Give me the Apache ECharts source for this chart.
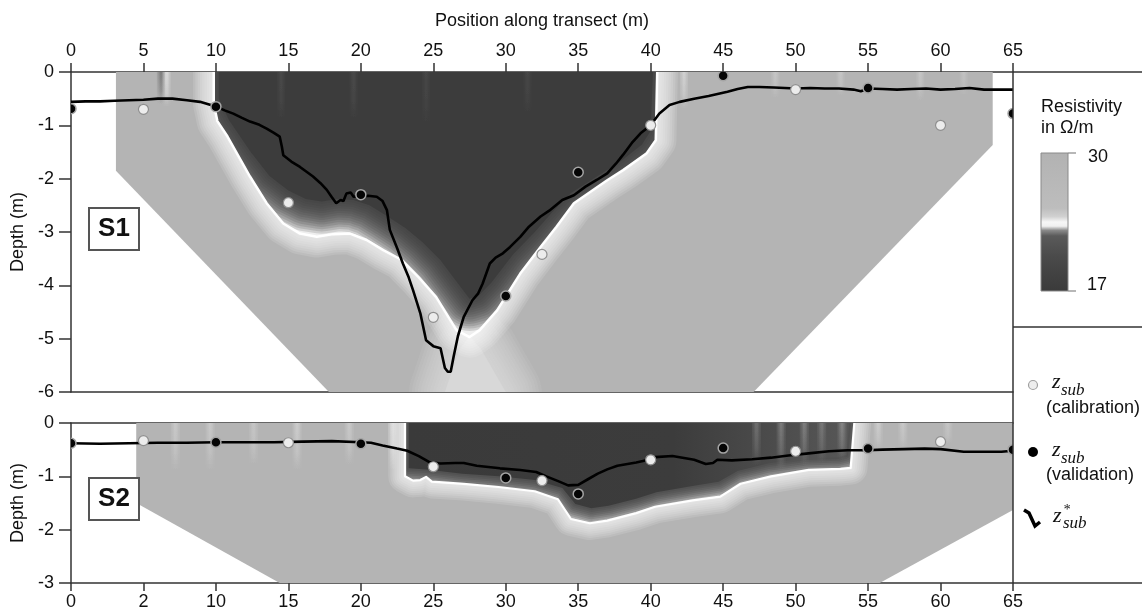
<!DOCTYPE html>
<html><head><meta charset="utf-8">
<script src="https://cdn.jsdelivr.net/npm/echarts@6/dist/echarts.min.js"></script>
<style>html,body{margin:0;padding:0;background:#fff}#c{width:1142px;height:612px}</style>
</head><body><div id="c"></div>
<script>
// ---------- tick labels ----------
const topTickLabels = ['0','5','10','15','20','25','30','35','40','45','50','55','60','65'];
const bottomTickLabels = ['0','2','10','15','20','25','30','35','40','45','50','55','60','65'];
const colorScaleLabels = ['30', '17'];

// ---------- S1: resistivity zones (x m, depth m) ----------
const s1Coverage = [[3.1,0],[63.6,0],[63.6,-1.37],[47.1,-6],[17.8,-6],[3.1,-1.85]];
const s1Plume = [[25.8,-6],[26.8,-5.2],[27.5,-4.95],[28.3,-5.2],[30.0,-6]];
const s1Halo = [[9.85,0],[9.85,-0.6],[10.1,-0.92],[10.8,-1.21],[12.35,-1.96],[13.5,-2.46],[14.65,-2.84],[15.8,-3.03],[16.96,-3.09],[18.1,-3.04],[19.25,-3.03],[20.4,-3.15],[21.55,-3.34],[22.8,-3.52],[24.0,-3.85],[25.2,-4.22],[26.6,-4.84],[27.5,-4.97],[28.2,-4.84],[29.4,-4.47],[31.0,-3.78],[32.4,-3.28],[33.5,-2.9],[34.7,-2.46],[37.0,-2.03],[38.1,-1.84],[39.7,-1.53],[40.35,-1.28],[40.45,0]];
const s1Core = [[10.2,0],[10.2,-0.5],[10.9,-0.9],[12.4,-1.5],[13.7,-1.95],[15.0,-2.22],[16.2,-2.38],[17.3,-2.43],[18.4,-2.38],[19.5,-2.4],[20.6,-2.5],[21.8,-2.7],[23.1,-2.93],[24.3,-3.2],[25.5,-3.53],[26.6,-3.93],[27.5,-4.25],[28.1,-4.2],[29.0,-3.95],[30.5,-3.42],[32.0,-3.0],[33.2,-2.63],[34.5,-2.27],[36.8,-1.87],[38.0,-1.66],[39.4,-1.36],[40.0,-1.1],[40.15,0]];
// vertical streaks in the inversion image: [x, lower depth, strength (+ light / - dark)]
const s1Streaks = [[6.6,-0.65,0.6],[6.2,-0.6,-0.4],[42.3,-0.7,0.45],[48.6,-0.5,0.25],[53.1,-0.45,0.25],[58.6,-0.55,0.25],[61.6,-0.45,0.2],[14.5,-0.9,0.07],[19.5,-0.9,0.07],[24.5,-1.0,0.06],[31.5,-0.8,0.06]];

// ---------- S1: z*sub line and points ----------
const s1Line = [[0,-0.56],[1,-0.55],[2,-0.55],[3,-0.54],[4,-0.53],[5,-0.52],[6,-0.5],[7,-0.5],[8,-0.53],[8.9,-0.56],[10.05,-0.65],[10.6,-0.72],[11.2,-0.78],[11.8,-0.86],[12.35,-0.93],[13,-0.99],[13.5,-1.06],[14,-1.14],[14.4,-1.21],[14.55,-1.4],[14.65,-1.56],[15.2,-1.68],[15.8,-1.78],[16.3,-1.88],[16.7,-1.96],[17.2,-2.08],[17.65,-2.21],[18.0,-2.35],[18.3,-2.46],[18.6,-2.4],[18.8,-2.42],[19.0,-2.28],[19.3,-2.26],[19.5,-2.34],[19.9,-2.33],[20.5,-2.32],[21.1,-2.34],[21.5,-2.42],[21.8,-2.59],[22.0,-2.96],[22.5,-3.3],[22.9,-3.59],[23.3,-3.85],[23.6,-4.09],[24.1,-4.52],[24.5,-5.03],[25.0,-5.14],[25.5,-5.18],[25.8,-5.55],[26.0,-5.62],[26.2,-5.62],[26.4,-5.34],[26.7,-4.95],[27.1,-4.59],[27.7,-4.28],[28.1,-4.15],[28.4,-3.97],[28.9,-3.59],[29.3,-3.48],[29.8,-3.4],[30.3,-3.28],[31.0,-3.09],[31.6,-2.9],[32.4,-2.71],[33.0,-2.6],[33.9,-2.4],[34.7,-2.31],[35.5,-2.15],[36.3,-2.02],[37,-1.9],[37.6,-1.72],[38.1,-1.55],[38.7,-1.33],[39.3,-1.15],[40,-1.0],[40.6,-0.78],[41.3,-0.62],[42,-0.56],[43,-0.5],[44,-0.45],[45.3,-0.37],[46,-0.32],[46.7,-0.28],[47.5,-0.28],[48.5,-0.29],[50,-0.31],[51,-0.3],[52,-0.31],[53,-0.31],[54,-0.33],[54.5,-0.36],[55,-0.31],[56,-0.32],[57,-0.33],[58,-0.32],[59,-0.31],[60,-0.33],[61,-0.32],[62,-0.3],[63,-0.33],[64,-0.33],[65,-0.33]];
const s1Calibration = [[5,-0.7],[15,-2.45],[25,-4.6],[32.5,-3.42],[40,-1.0],[50,-0.33],[60,-1.0]];
const s1Validation = [[0,-0.69],[10,-0.65],[20,-2.3],[30,-4.2],[35,-1.88],[45,-0.07],[55,-0.3],[65,-0.78]];

// ---------- S2: resistivity zones ----------
const s2Coverage = [[4.5,0],[65,0],[65,-1.63],[55.8,-3],[14.4,-3],[4.5,-1.5]];
const s2Halo = [[23.05,0],[23.05,-1.0],[23.6,-1.08],[24.1,-1.07],[24.5,-1.01],[24.9,-1.1],[27.1,-1.14],[29.5,-1.2],[32,-1.28],[33.6,-1.43],[34.5,-1.8],[35.8,-1.88],[37,-1.83],[39,-1.69],[40.3,-1.57],[42.9,-1.45],[44.8,-1.38],[46.2,-1.14],[48.3,-1.0],[50.9,-0.88],[53.1,-0.86],[53.8,-0.84],[54.05,0]];
const s2Core = [[23.3,0],[23.3,-0.85],[24.5,-0.87],[27,-0.95],[29.5,-1.0],[32,-1.07],[33.9,-1.22],[34.8,-1.52],[35.9,-1.6],[37.1,-1.55],[39,-1.42],[40.4,-1.3],[42.9,-1.18],[44.7,-1.1],[46,-0.9],[48.1,-0.76],[50.8,-0.66],[52.9,-0.64],[53.5,-0.6],[53.7,0]];
const s2Streaks = [[7.2,-0.9,0.3],[9.6,-0.9,0.3],[12.6,-0.8,0.25],[15.6,-0.9,0.35],[19.2,-0.8,0.3],[22.2,-0.9,0.45],[47.3,-0.8,0.22],[49.0,-0.9,0.28],[50.6,-0.8,0.28],[51.8,-0.75,0.22],[53.2,-0.7,0.3],[55.7,-0.5,0.35],[57.4,-0.5,0.3],[60.5,-0.4,0.25]];

// ---------- S2: z*sub line and points ----------
const s2Line = [[0,-0.38],[2,-0.39],[4,-0.38],[6,-0.37],[8,-0.37],[10,-0.36],[12,-0.36],[14,-0.36],[16,-0.35],[18,-0.34],[20,-0.36],[20.7,-0.37],[21.5,-0.42],[22.5,-0.48],[23.2,-0.52],[24,-0.62],[24.7,-0.73],[25.5,-0.76],[26.5,-0.75],[27.1,-0.75],[28,-0.8],[29.6,-0.85],[31,-0.88],[32.1,-0.92],[32.8,-1.0],[33.7,-1.1],[34.3,-1.17],[35,-1.16],[35.7,-1.05],[36.35,-0.95],[37,-0.87],[37.7,-0.8],[39,-0.74],[39.7,-0.7],[40.3,-0.64],[41.5,-0.62],[43,-0.69],[43.8,-0.77],[44.3,-0.75],[44.6,-0.69],[45.6,-0.7],[47,-0.68],[48.3,-0.65],[49.5,-0.61],[50.9,-0.57],[52.3,-0.53],[53.6,-0.51],[54.9,-0.51],[56,-0.5],[57.5,-0.49],[58.9,-0.48],[60,-0.49],[61.6,-0.54],[63,-0.54],[64.2,-0.54],[65,-0.52]];
const s2Calibration = [[5,-0.33],[15,-0.37],[25,-0.82],[32.5,-1.08],[40,-0.69],[50,-0.53],[60,-0.35]];
const s2Validation = [[0,-0.38],[10,-0.36],[20,-0.39],[30,-1.03],[35,-1.33],[45,-0.47],[55,-0.48],[65,-0.5]];

// ---------- rendering ----------
const FONT = '"Liberation Sans", Arial, sans-serif';
const SERIF = '"Liberation Serif", "Times New Roman", serif';
const AX = '#333';
const G = echarts.graphic;
const GRAY = '#b4b4b4';

function clipOf(cs) { return { type: 'rect', shape: { x: cs.x, y: cs.y, width: cs.width, height: cs.height } }; }

// soft band built from stacked translucent strokes around a polygon
function band(points, rgb, alpha, n, step) {
  const out = [];
  for (let k = n; k >= 1; k--) {
    out.push({ type: 'polygon', shape: { points: points },
      style: { fill: null, stroke: 'rgba(' + rgb + ',' + alpha + ')', lineWidth: 2 * k * step, lineJoin: 'round' } });
  }
  return out;
}

function zoneSeries(axes, cfg) {
  return {
    type: 'custom', xAxisIndex: axes[0], yAxisIndex: axes[1], z: 2, clip: true, silent: true, animation: false,
    data: [cfg.coverage[0]],
    renderItem: function (params, api) {
      const P = function (pts) { return pts.map(function (p) { return api.coord(p); }); };
      const cov = P(cfg.coverage), halo = P(cfg.halo), core = P(cfg.core);
      let children = [{ type: 'polygon', shape: { points: cov }, style: { fill: GRAY } }];
      if (cfg.plume) {
        const pl = P(cfg.plume);
        children = children.concat(band(pl, '222,222,222', 0.1, 12, 3));
        children.push({ type: 'polygon', shape: { points: pl }, style: { fill: '#d8d8d8' } });
      }
      children = children.concat(band(halo, '255,255,255', cfg.glowA, cfg.glowN, cfg.glowStep));
      let inner = [{ type: 'polygon', shape: { points: halo }, style: { fill: '#eeeeee' } }];
      inner = inner.concat(band(core, '60,60,60', cfg.coreA, cfg.coreN, cfg.coreStep));
      inner.push({ type: 'polygon', shape: { points: core }, style: { fill: cfg.coreFill } });
      children.push({ type: 'group', clipPath: { type: 'polygon', shape: { points: halo } }, children: inner });
      children.push({ type: 'polyline', shape: { points: halo }, style: { fill: null, stroke: '#ffffff', lineWidth: cfg.lineW, lineJoin: 'round' } });
      // soft vertical streaks, clipped to the coverage area
      const streaks = [];
      cfg.streaks.forEach(function (s) {
        const a = api.coord([s[0], 0]), b = api.coord([s[0], s[1]]);
        const rgb = s[2] > 0 ? '255,255,255' : '30,30,30';
        const al = Math.abs(s[2]) / 3;
        [1, 0.62, 0.3].forEach(function (f) {
          const w = cfg.streakW * f;
          streaks.push({ type: 'rect', shape: { x: a[0] - w / 2, y: a[1], width: w, height: b[1] - a[1] },
            style: { fill: new G.LinearGradient(0, 0, 0, 1, [
              { offset: 0, color: 'rgba(' + rgb + ',' + al + ')' }, { offset: 0.6, color: 'rgba(' + rgb + ',' + (al * 0.6) + ')' },
              { offset: 1, color: 'rgba(' + rgb + ',0)' }]) } });
        });
      });
      children.push({ type: 'group', clipPath: { type: 'polygon', shape: { points: cov } }, children: streaks });
      return { type: 'group', children: children, clipPath: clipOf(params.coordSys) };
    }
  };
}
function markerSeries(pts, axes, style) {
  return {
    type: 'custom', xAxisIndex: axes[0], yAxisIndex: axes[1], z: 8, clip: true, silent: true, animation: false,
    data: pts,
    renderItem: function (params, api) {
      const c = api.coord([api.value(0), api.value(1)]);
      return { type: 'circle', shape: { cx: c[0], cy: c[1], r: 5 }, style: style, clipPath: clipOf(params.coordSys) };
    }
  };
}
function lineSeries(pts, axes) {
  return { type: 'line', xAxisIndex: axes[0], yAxisIndex: axes[1], data: pts, showSymbol: false, symbol: 'none',
    lineStyle: { color: '#000', width: 2.6 }, z: 7, clip: true, silent: true, animation: false };
}

const calibStyle = { fill: '#ececec', stroke: '#8f8f8f', lineWidth: 1.2 };
const validStyle = { fill: '#050505', stroke: '#a5a5a5', lineWidth: 1.5 };
const A1 = [0, 0], A2 = [2, 1];

const series = [
  zoneSeries(A1, { coverage: s1Coverage, halo: s1Halo, core: s1Core, plume: s1Plume, streaks: s1Streaks, streakW: 8,
    glowA: 0.12, glowN: 9, glowStep: 2.3, coreA: 0.17, coreN: 14, coreStep: 2.3, lineW: 2.5, coreFill: '#3c3c3c' }),
  lineSeries(s1Line, A1),
  markerSeries(s1Calibration, A1, calibStyle),
  markerSeries(s1Validation, A1, validStyle),
  zoneSeries(A2, { coverage: s2Coverage, halo: s2Halo, core: s2Core, plume: null, streaks: s2Streaks, streakW: 9,
    glowA: 0.13, glowN: 8, glowStep: 2.1, coreA: 0.2, coreN: 9, coreStep: 1.8, lineW: 2.2,
    coreFill: new G.LinearGradient(0, 0, 1, 0, [
      { offset: 0, color: '#3a3a3a' }, { offset: 0.6, color: '#3c3c3c' },
      { offset: 0.8, color: '#4a4a4a' }, { offset: 1, color: '#575757' }]) }),
  lineSeries(s2Line, A2),
  markerSeries(s2Calibration, A2, calibStyle),
  markerSeries(s2Validation, A2, validStyle)
];

const axisLine = { show: true, onZero: false, lineStyle: { color: AX, width: 1.5 } };
const labelStyle = { fontFamily: FONT, fontSize: 18, color: '#111' };
const nameStyle = { fontFamily: FONT, fontSize: 18, color: '#111' };

const option = {
  animation: false,
  backgroundColor: '#fff',
  grid: [
    { left: 71, top: 72, width: 942, height: 320 },
    { left: 71, top: 423, width: 942, height: 160 }
  ],
  xAxis: [
    { gridIndex: 0, type: 'value', position: 'top', min: 0, max: 65, interval: 5,
      name: 'Position along transect (m)', nameLocation: 'middle', nameGap: 42, nameTextStyle: nameStyle,
      axisLine: axisLine, axisTick: { show: true, length: 9, lineStyle: { color: AX, width: 1.5 } },
      axisLabel: Object.assign({ margin: 12, formatter: function (v) { return topTickLabels[Math.round(v / 5)]; } }, labelStyle),
      splitLine: { show: false } },
    { gridIndex: 0, type: 'value', position: 'bottom', min: 0, max: 65, interval: 5,
      axisLine: axisLine, axisTick: { show: false }, axisLabel: { show: false }, splitLine: { show: false } },
    { gridIndex: 1, type: 'value', position: 'bottom', min: 0, max: 65, interval: 5,
      axisLine: axisLine, axisTick: { show: true, length: 8, lineStyle: { color: AX, width: 1.5 } },
      axisLabel: Object.assign({ margin: 10, formatter: function (v) { return bottomTickLabels[Math.round(v / 5)]; } }, labelStyle),
      splitLine: { show: false } },
    { gridIndex: 1, type: 'value', position: 'top', min: 0, max: 65, interval: 5,
      axisLine: axisLine, axisTick: { show: false }, axisLabel: { show: false }, splitLine: { show: false } }
  ],
  yAxis: [
    { gridIndex: 0, type: 'value', min: -6, max: 0, interval: 1,
      name: 'Depth (m)', nameLocation: 'middle', nameGap: 41, nameTextStyle: nameStyle,
      axisLine: axisLine, axisTick: { show: true, length: 12, lineStyle: { color: AX, width: 1.5 } },
      axisLabel: Object.assign({ margin: 17 }, labelStyle), splitLine: { show: false } },
    { gridIndex: 1, type: 'value', min: -3, max: 0, interval: 1,
      name: 'Depth (m)', nameLocation: 'middle', nameGap: 41, nameTextStyle: nameStyle,
      axisLine: axisLine, axisTick: { show: true, length: 12, lineStyle: { color: AX, width: 1.5 } },
      axisLabel: Object.assign({ margin: 17 }, labelStyle), splitLine: { show: false } }
  ],
  series: series,
  graphic: [
    { type: 'line', shape: { x1: 1013, y1: 72, x2: 1142, y2: 72 }, style: { stroke: AX, lineWidth: 1.5 }, z: 50 },
    { type: 'line', shape: { x1: 1013, y1: 583, x2: 1142, y2: 583 }, style: { stroke: AX, lineWidth: 1.5 }, z: 50 },
    { type: 'line', shape: { x1: 1013, y1: 327, x2: 1142, y2: 327 }, style: { stroke: AX, lineWidth: 1.5 }, z: 50 },
    { type: 'line', shape: { x1: 1013, y1: 72, x2: 1013, y2: 583 }, style: { stroke: AX, lineWidth: 1.5 }, z: 50 },
    { type: 'rect', shape: { x: 89, y: 208, width: 50, height: 42 }, style: { fill: '#fff', stroke: '#555', lineWidth: 2 }, z: 60 },
    { type: 'text', x: 114, y: 229, style: { text: 'S1', font: 'bold 26px ' + FONT, fill: '#111', align: 'center', verticalAlign: 'middle', textAlign: 'center', textVerticalAlign: 'middle' }, z: 61 },
    { type: 'rect', shape: { x: 89, y: 478, width: 50, height: 42 }, style: { fill: '#fff', stroke: '#555', lineWidth: 2 }, z: 60 },
    { type: 'text', x: 114, y: 499, style: { text: 'S2', font: 'bold 26px ' + FONT, fill: '#111', align: 'center', verticalAlign: 'middle', textAlign: 'center', textVerticalAlign: 'middle' }, z: 61 },
    { type: 'text', x: 1041, y: 107, style: { text: 'Resistivity', font: '18px ' + FONT, fill: '#111', verticalAlign: 'middle', textVerticalAlign: 'middle' }, z: 60 },
    { type: 'text', x: 1041, y: 128, style: { text: 'in Ω/m', font: '18px ' + FONT, fill: '#111', verticalAlign: 'middle', textVerticalAlign: 'middle' }, z: 60 },
    { type: 'rect', shape: { x: 1041, y: 153, width: 27, height: 138 },
      style: { fill: new G.LinearGradient(0, 0, 0, 1, [
        { offset: 0, color: '#b2b2b2' }, { offset: 0.4, color: '#bdbdbd' }, { offset: 0.46, color: '#d0d0d0' },
        { offset: 0.5, color: '#f6f6f6' }, { offset: 0.53, color: '#f0f0f0' }, { offset: 0.56, color: '#8a8a8a' },
        { offset: 0.6, color: '#5a5a5a' }, { offset: 0.75, color: '#4a4a4a' }, { offset: 1, color: '#3a3a3a' }]),
        stroke: '#8a8a8a', lineWidth: 1 }, z: 60 },
    { type: 'line', shape: { x1: 1068, y1: 153, x2: 1076, y2: 153 }, style: { stroke: '#888', lineWidth: 1.2 }, z: 60 },
    { type: 'line', shape: { x1: 1068, y1: 291, x2: 1076, y2: 291 }, style: { stroke: '#888', lineWidth: 1.2 }, z: 60 },
    { type: 'text', x: 1088, y: 157, style: { text: colorScaleLabels[0], font: '18px ' + FONT, fill: '#111', verticalAlign: 'middle', textVerticalAlign: 'middle' }, z: 60 },
    { type: 'text', x: 1087, y: 285, style: { text: colorScaleLabels[1], font: '18px ' + FONT, fill: '#111', verticalAlign: 'middle', textVerticalAlign: 'middle' }, z: 60 },
    { type: 'circle', shape: { cx: 1033, cy: 385, r: 4.5 }, style: { fill: '#eeeeee', stroke: '#a0a0a0', lineWidth: 1.2 }, z: 60 },
    { type: 'text', x: 1052, y: 382, style: { text: 'z', font: 'italic 22px ' + SERIF, fill: '#111', verticalAlign: 'middle', textVerticalAlign: 'middle' }, z: 60 },
    { type: 'text', x: 1061, y: 391, style: { text: 'sub', font: 'italic 17px ' + SERIF, fill: '#111', verticalAlign: 'middle', textVerticalAlign: 'middle' }, z: 60 },
    { type: 'text', x: 1046, y: 408, style: { text: '(calibration)', font: '18px ' + FONT, fill: '#111', verticalAlign: 'middle', textVerticalAlign: 'middle' }, z: 60 },
    { type: 'circle', shape: { cx: 1033, cy: 452, r: 5 }, style: { fill: '#000' }, z: 60 },
    { type: 'text', x: 1052, y: 450, style: { text: 'z', font: 'italic 22px ' + SERIF, fill: '#111', verticalAlign: 'middle', textVerticalAlign: 'middle' }, z: 60 },
    { type: 'text', x: 1061, y: 459, style: { text: 'sub', font: 'italic 17px ' + SERIF, fill: '#111', verticalAlign: 'middle', textVerticalAlign: 'middle' }, z: 60 },
    { type: 'text', x: 1046, y: 475, style: { text: '(validation)', font: '18px ' + FONT, fill: '#111', verticalAlign: 'middle', textVerticalAlign: 'middle' }, z: 60 },
    { type: 'polyline', shape: { points: [[1024, 510], [1029, 513], [1035, 526], [1040, 522]] }, style: { stroke: '#000', lineWidth: 3.5, fill: null, lineJoin: 'miter' }, z: 60 },
    { type: 'text', x: 1053, y: 516, style: { text: 'z', font: 'italic 22px ' + SERIF, fill: '#111', verticalAlign: 'middle', textVerticalAlign: 'middle' }, z: 60 },
    { type: 'text', x: 1063, y: 510, style: { text: '*', font: 'italic 14px ' + SERIF, fill: '#111', verticalAlign: 'middle', textVerticalAlign: 'middle' }, z: 60 },
    { type: 'text', x: 1063, y: 524, style: { text: 'sub', font: 'italic 17px ' + SERIF, fill: '#111', verticalAlign: 'middle', textVerticalAlign: 'middle' }, z: 60 }
  ]
};

const chart = echarts.init(document.getElementById('c'), null, { renderer: 'canvas' });
chart.setOption(option);
</script></body></html>
